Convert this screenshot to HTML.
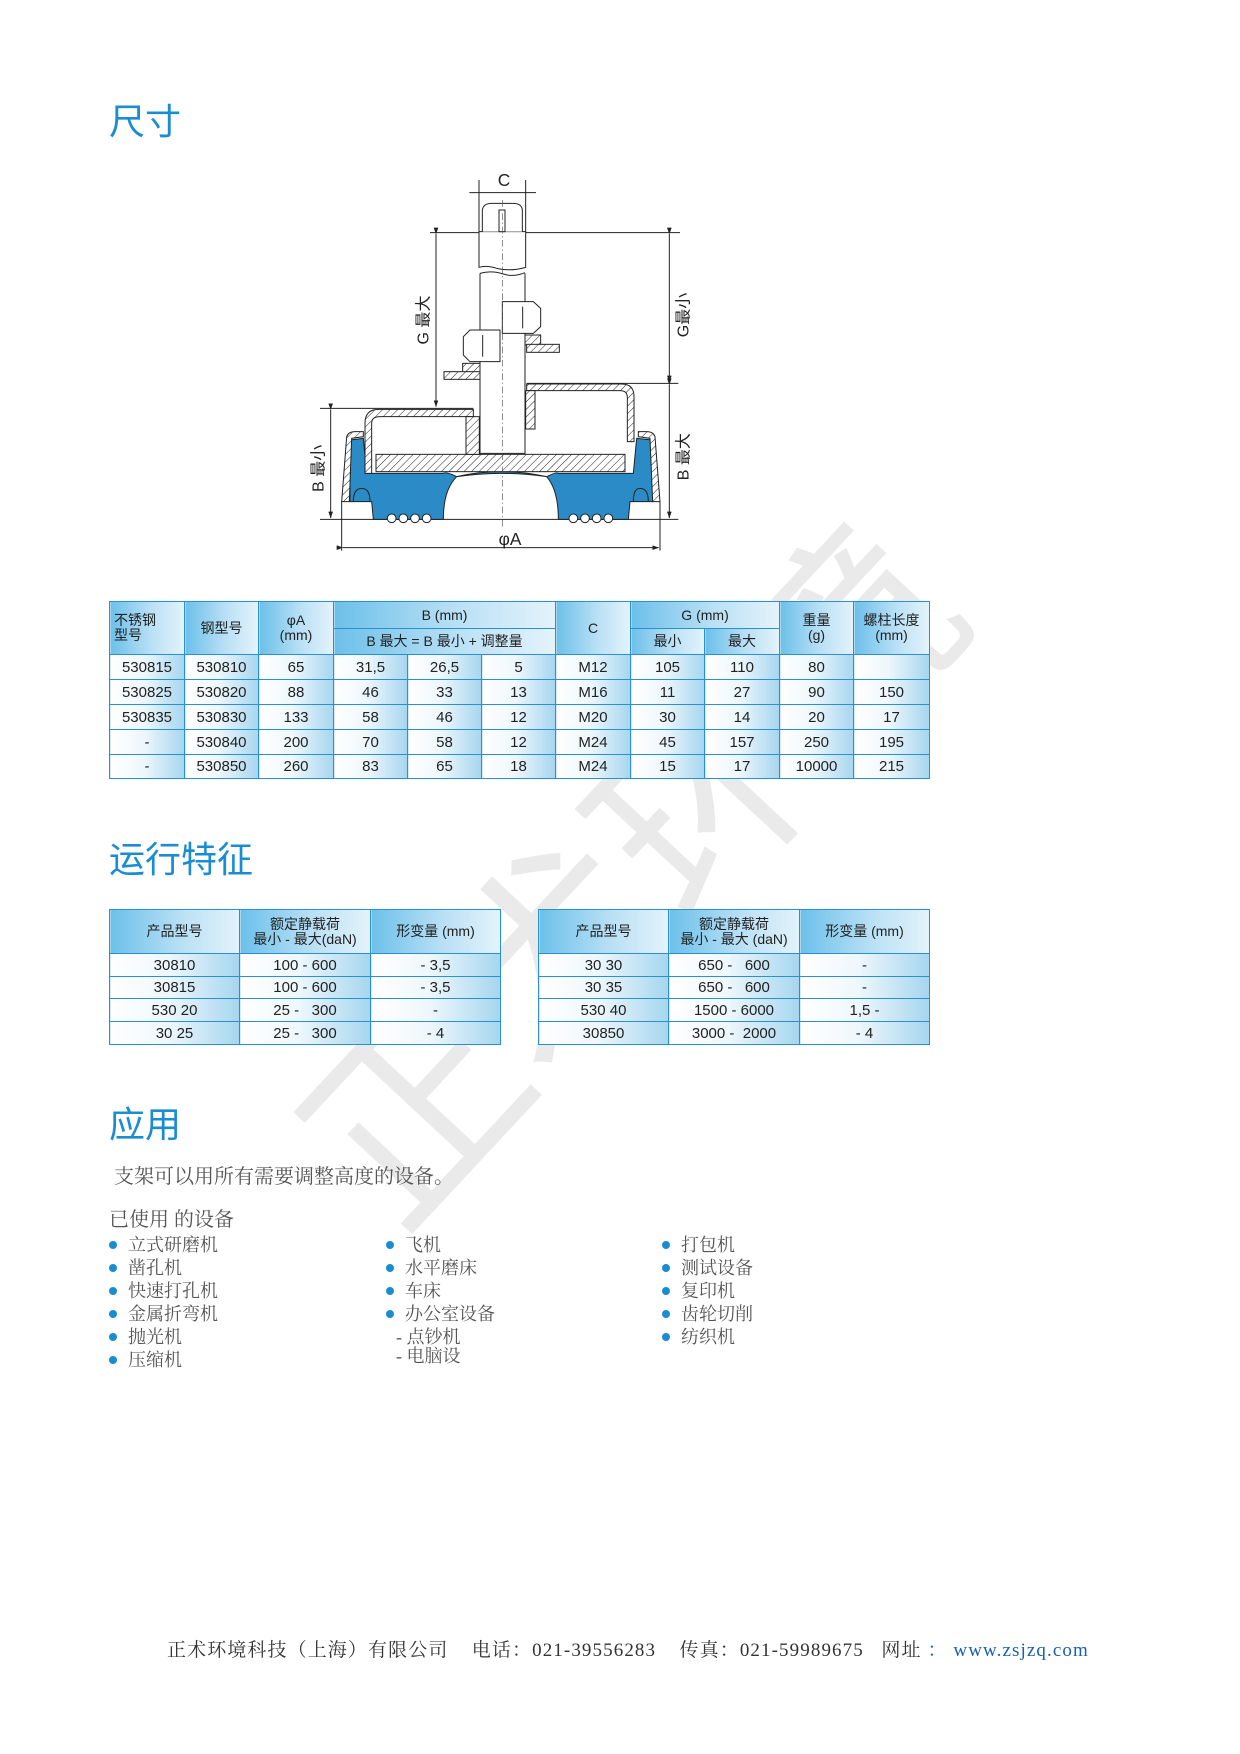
<!DOCTYPE html>
<html><head><meta charset="utf-8">
<style>
body{margin:0;background:#fff;}
#p{position:relative;width:1240px;height:1754px;overflow:hidden;background:#fff;font-family:"Liberation Sans","Noto Sans CJK SC",sans-serif;}
.t{position:absolute;color:#1a8dd2;font-size:36px;font-family:"Liberation Sans","Noto Sans CJK SC",sans-serif;line-height:1;}
table{position:absolute;border-collapse:collapse;table-layout:fixed;}
td{border:1px solid #2a90d4;text-align:center;font-size:15px;color:#222;padding:0;background:linear-gradient(to right,#ffffff 0%,#eef7fc 45%,#a6d6ef 100%);}
td.h{background:linear-gradient(to right,#6cc0ea 0%,#b9e0f5 55%,#e4f3fb 100%);font-size:14px;line-height:15px;}
.s{position:absolute;font-family:"Liberation Serif","Noto Serif CJK SC",serif;color:#555;font-size:18px;line-height:1;white-space:nowrap;}
.b{position:absolute;width:8px;height:8px;border-radius:50%;background:#1a8dd2;}
</style></head><body><div id="p">

<div style="position:absolute;left:220px;top:1070px;font-size:212px;color:rgba(195,195,195,0.35);transform:rotate(-47deg);transform-origin:left top;white-space:nowrap;font-family:'Noto Sans CJK SC',sans-serif;">正术环境</div>

<div class="t" style="left:109px;top:104px;">尺寸</div>

<svg style="position:absolute;left:300px;top:160px;" width="400" height="410" viewBox="0 0 1200 1230">
<defs><pattern id="hh" width="16" height="16" patternUnits="userSpaceOnUse" patternTransform="rotate(45)"><rect width="16" height="16" fill="#fff"/><line x1="0" y1="0" x2="0" y2="16" stroke="#222" stroke-width="3"/></pattern>
<marker id="ar2" markerWidth="20" markerHeight="14" refX="19" refY="7" orient="auto" markerUnits="userSpaceOnUse"><path d="M0,0 L20,7 L0,14 z" fill="#222"/></marker></defs>
<g stroke="#222" stroke-width="3" fill="none">
<line x1="537" y1="60" x2="537" y2="215"/><line x1="677" y1="60" x2="677" y2="215"/>
<line x1="508" y1="98" x2="708" y2="98"/>
<line x1="390" y1="218" x2="1140" y2="218"/>
<line x1="680" y1="670" x2="1135" y2="670"/>
<line x1="60" y1="745" x2="520" y2="745"/>
<line x1="60" y1="1078" x2="1135" y2="1078"/>
<line x1="125" y1="1025" x2="125" y2="1172"/><line x1="1080" y1="1025" x2="1080" y2="1172"/>
<line x1="408" y1="222" x2="408" y2="740" marker-end="url(#ar2)" marker-start="url(#ar2)"/>
<line x1="1108" y1="222" x2="1108" y2="666" marker-end="url(#ar2)" marker-start="url(#ar2)"/>
<line x1="1108" y1="674" x2="1108" y2="1074" marker-end="url(#ar2)" marker-start="url(#ar2)"/>
<line x1="92" y1="749" x2="92" y2="1074" marker-end="url(#ar2)" marker-start="url(#ar2)"/>
<line x1="129" y1="1163" x2="1076" y2="1163" marker-end="url(#ar2)" marker-start="url(#ar2)"/>
</g>
<path d="M150,840 L190,835 L200,940 L430,940 Q440,935 470,950 Q600,920 740,950 Q770,935 775,940 L1000,940 L1010,835 L1055,840 L1060,1025 L1000,1025 Q1000,985 1020,985 Q1045,985 1045,1025 L990,1025 L985,1078 L775,1078 Q775,990 740,950 Q600,930 470,950 Q430,990 430,1078 L220,1078 L215,1025 L160,1025 Q160,985 185,985 Q210,985 210,1025 L150,1025 Z" fill="#2a8bc6" stroke="#222" stroke-width="3"/>
<g fill="#fff" stroke="#222" stroke-width="3">
<circle cx="275" cy="1075" r="13"/><circle cx="310" cy="1075" r="13"/><circle cx="345" cy="1075" r="13"/><circle cx="380" cy="1075" r="13"/>
<circle cx="820" cy="1075" r="13"/><circle cx="855" cy="1075" r="13"/><circle cx="890" cy="1075" r="13"/><circle cx="925" cy="1075" r="13"/>
</g>
<g stroke="#222" stroke-width="3" fill="url(#hh)">
<path d="M125,1025 L140,830 Q145,815 165,815 L190,815 L190,830 L155,835 L148,1025 Z"/>
<path d="M1080,1025 L1065,830 Q1060,815 1040,815 L1015,815 L1015,830 L1050,835 L1058,1025 Z"/>
<path d="M520,748 L235,748 Q195,748 195,790 L195,940 L215,940 L215,790 Q215,770 240,770 L520,770 Z"/>
<path d="M680,672 L965,672 Q1002,672 1002,710 L1002,845 L982,845 L982,712 Q982,692 960,692 L680,692 Z"/>
<rect x="228" y="883" width="747" height="52"/>
<rect x="498" y="770" width="40" height="113"/>
<rect x="677" y="692" width="28" height="115"/>
<rect x="610" y="525" width="112" height="30"/>
<rect x="680" y="553" width="98" height="24"/>
<rect x="488" y="610" width="117" height="27"/>
<rect x="432" y="635" width="108" height="23"/>
</g>
<g stroke="#222" stroke-width="3" fill="#fff">
<path d="M540,340 L540,880 L675,880 L675,340"/>
<path d="M537,215 L537,322 Q560,315 590,325 Q630,335 677,322 L677,215 Z"/>
<path d="M547,215 L547,150 Q550,130 575,130 L640,130 Q665,130 667,150 L667,215"/>
<rect x="597" y="150" width="18" height="65"/>
<path d="M540,340 Q575,330 610,342 Q640,352 675,338" fill="none"/>
<path d="M607,425 L700,425 L722,445 L722,500 L700,520 L607,520 Z"/>
<line x1="668" y1="440" x2="668" y2="505"/>
<path d="M510,510 L600,510 L600,605 L510,605 L490,585 L490,530 Z"/>
<line x1="548" y1="525" x2="548" y2="590"/>
</g>
<line x1="607" y1="120" x2="607" y2="1100" stroke="#555" stroke-width="2" stroke-dasharray="20,8,4,8"/>
<g font-family="Liberation Sans,Noto Sans CJK SC,sans-serif" font-size="48" fill="#222">
<text x="612" y="78" text-anchor="middle" font-size="52">C</text>
<text x="630" y="1155" text-anchor="middle" font-size="52">φA</text>
<text transform="translate(385,480) rotate(-90)" text-anchor="middle">G 最大</text>
<text transform="translate(1165,465) rotate(-90)" text-anchor="middle">G最小</text>
<text transform="translate(1165,890) rotate(-90)" text-anchor="middle">B 最大</text>
<text transform="translate(70,925) rotate(-90)" text-anchor="middle">B 最小</text>
</g>
</svg>

<table style="left:109px;top:601px;width:820px;">
<colgroup><col style="width:75px"><col style="width:74px"><col style="width:75px"><col style="width:74px"><col style="width:74px"><col style="width:74px"><col style="width:75px"><col style="width:74px"><col style="width:75px"><col style="width:74px"><col style="width:76px"></colgroup>
<tr style="height:27px"><td class="h" rowspan="2" style="text-align:left;padding-left:4px">不锈钢<br>型号</td><td class="h" rowspan="2">钢型号</td><td class="h" rowspan="2">φA<br>(mm)</td><td class="h" colspan="3">B (mm)</td><td class="h" rowspan="2">C</td><td class="h" colspan="2">G (mm)</td><td class="h" rowspan="2">重量<br>(g)</td><td class="h" rowspan="2">螺柱长度<br>(mm)</td></tr>
<tr style="height:26px"><td class="h" colspan="3">B 最大 = B 最小 + 调整量</td><td class="h">最小</td><td class="h">最大</td></tr>
<tr style="height:25px"><td>530815</td><td>530810</td><td>65</td><td>31,5</td><td>26,5</td><td>5</td><td>M12</td><td>105</td><td>110</td><td>80</td><td></td></tr>
<tr style="height:25px"><td>530825</td><td>530820</td><td>88</td><td>46</td><td>33</td><td>13</td><td>M16</td><td>11</td><td>27</td><td>90</td><td>150</td></tr>
<tr style="height:25px"><td>530835</td><td>530830</td><td>133</td><td>58</td><td>46</td><td>12</td><td>M20</td><td>30</td><td>14</td><td>20</td><td>17</td></tr>
<tr style="height:25px"><td>-</td><td>530840</td><td>200</td><td>70</td><td>58</td><td>12</td><td>M24</td><td>45</td><td>157</td><td>250</td><td>195</td></tr>
<tr style="height:24px"><td>-</td><td>530850</td><td>260</td><td>83</td><td>65</td><td>18</td><td>M24</td><td>15</td><td>17</td><td>10000</td><td>215</td></tr>
</table>

<div class="t" style="left:109px;top:842px;">运行特征</div>

<table style="left:109px;top:909px;width:391px;">
<colgroup><col style="width:130px"><col style="width:131px"><col style="width:130px"></colgroup>
<tr style="height:44px"><td class="h">产品型号</td><td class="h">额定静载荷<br>最小 - 最大(daN)</td><td class="h">形变量 (mm)</td></tr>
<tr style="height:23px"><td>30810</td><td>100 - 600</td><td>- 3,5</td></tr>
<tr style="height:22px"><td>30815</td><td>100 - 600</td><td>- 3,5</td></tr>
<tr style="height:23px"><td>530 20</td><td>25 -&nbsp;&nbsp;&nbsp;300</td><td>-</td></tr>
<tr style="height:23px"><td>30 25</td><td>25 -&nbsp;&nbsp;&nbsp;300</td><td>- 4</td></tr>
</table>
<table style="left:538px;top:909px;width:391px;">
<colgroup><col style="width:130px"><col style="width:131px"><col style="width:130px"></colgroup>
<tr style="height:44px"><td class="h">产品型号</td><td class="h">额定静载荷<br>最小 - 最大 (daN)</td><td class="h">形变量 (mm)</td></tr>
<tr style="height:23px"><td>30 30</td><td>650 -&nbsp;&nbsp;&nbsp;600</td><td>-</td></tr>
<tr style="height:22px"><td>30 35</td><td>650 -&nbsp;&nbsp;&nbsp;600</td><td>-</td></tr>
<tr style="height:23px"><td>530 40</td><td>1500 - 6000</td><td>1,5 -</td></tr>
<tr style="height:23px"><td>30850</td><td>3000 -&nbsp;&nbsp;2000</td><td>- 4</td></tr>
</table>

<div class="t" style="left:109px;top:1107px;">应用</div>
<div class="s" style="left:114px;top:1167px;font-size:20px;">支架可以用所有需要调整高度的设备。</div>
<div class="s" style="left:109px;top:1210px;font-size:20px;">已使用 的设备</div>

<div class="b" style="left:109px;top:1241px"></div><div class="s" style="left:128px;top:1236px">立式研磨机</div>
<div class="b" style="left:109px;top:1264px"></div><div class="s" style="left:128px;top:1259px">凿孔机</div>
<div class="b" style="left:109px;top:1287px"></div><div class="s" style="left:128px;top:1282px">快速打孔机</div>
<div class="b" style="left:109px;top:1310px"></div><div class="s" style="left:128px;top:1305px">金属折弯机</div>
<div class="b" style="left:109px;top:1333px"></div><div class="s" style="left:128px;top:1328px">抛光机</div>
<div class="b" style="left:109px;top:1356px"></div><div class="s" style="left:128px;top:1351px">压缩机</div>

<div class="b" style="left:386px;top:1241px"></div><div class="s" style="left:405px;top:1236px">飞机</div>
<div class="b" style="left:386px;top:1264px"></div><div class="s" style="left:405px;top:1259px">水平磨床</div>
<div class="b" style="left:386px;top:1287px"></div><div class="s" style="left:405px;top:1282px">车床</div>
<div class="b" style="left:386px;top:1310px"></div><div class="s" style="left:405px;top:1305px">办公室设备</div>
<div class="s" style="left:396px;top:1328px">- 点钞机</div>
<div class="s" style="left:396px;top:1347px">- 电脑设</div>

<div class="b" style="left:662px;top:1241px"></div><div class="s" style="left:681px;top:1236px">打包机</div>
<div class="b" style="left:662px;top:1264px"></div><div class="s" style="left:681px;top:1259px">测试设备</div>
<div class="b" style="left:662px;top:1287px"></div><div class="s" style="left:681px;top:1282px">复印机</div>
<div class="b" style="left:662px;top:1310px"></div><div class="s" style="left:681px;top:1305px">齿轮切削</div>
<div class="b" style="left:662px;top:1333px"></div><div class="s" style="left:681px;top:1328px">纺织机</div>

<div class="s" style="left:167px;top:1641px;color:#333;font-size:19px;letter-spacing:1.1px;">正术环境科技（上海）有限公司&nbsp;&nbsp;&nbsp;&nbsp;电话：021-39556283&nbsp;&nbsp;&nbsp;&nbsp;传真：021-59989675&nbsp;&nbsp;&nbsp;网址 <span style="color:#1a5fb0">： www.zsjzq.com</span></div>
</div></body></html>
